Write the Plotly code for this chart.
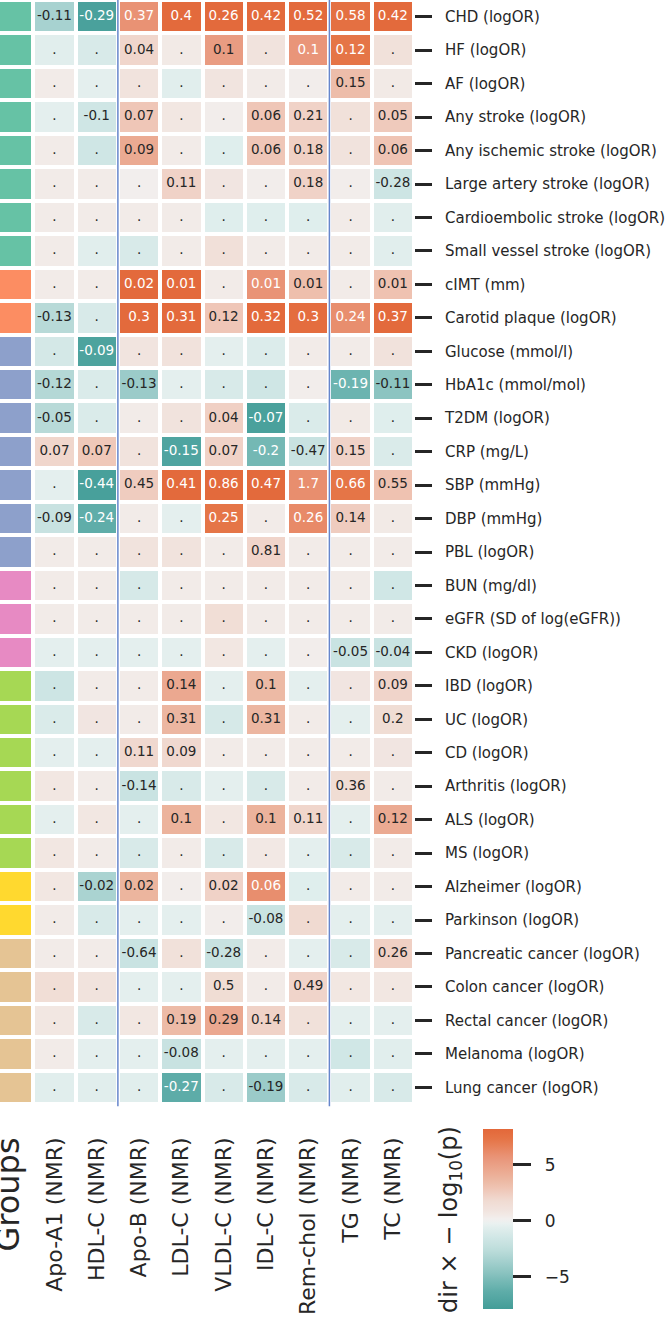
import plotly.graph_objects as go

# ---------------- data ----------------
row_names = [
    "CHD (logOR)", "HF (logOR)", "AF (logOR)", "Any stroke (logOR)",
    "Any ischemic stroke (logOR)", "Large artery stroke (logOR)",
    "Cardioembolic stroke (logOR)", "Small vessel stroke (logOR)",
    "cIMT (mm)", "Carotid plaque (logOR)",
    "Glucose (mmol/l)", "HbA1c (mmol/mol)", "T2DM (logOR)", "CRP (mg/L)",
    "SBP (mmHg)", "DBP (mmHg)", "PBL (logOR)",
    "BUN (mg/dl)", "eGFR (SD of log(eGFR))", "CKD (logOR)",
    "IBD (logOR)", "UC (logOR)", "CD (logOR)", "Arthritis (logOR)",
    "ALS (logOR)", "MS (logOR)",
    "Alzheimer (logOR)", "Parkinson (logOR)",
    "Pancreatic cancer (logOR)", "Colon cancer (logOR)",
    "Rectal cancer (logOR)", "Melanoma (logOR)", "Lung cancer (logOR)",
]
row_group = [0] * 8 + [1] * 2 + [2] * 7 + [3] * 3 + [4] * 6 + [5] * 2 + [6] * 5
group_colors = ["#66c2a5", "#fc8d62", "#8da0cb", "#e78ac3",
                "#a6d854", "#ffd92f", "#e5c494"]

col_names = ["Apo-A1 (NMR)", "HDL-C (NMR)", "Apo-B (NMR)", "LDL-C (NMR)",
             "VLDL-C (NMR)", "IDL-C (NMR)", "Rem-chol (NMR)", "TG (NMR)",
             "TC (NMR)"]
group_label = "Groups"
separators_after = ["HDL-C (NMR)", "Rem-chol (NMR)"]

N = None
# effect estimates (None = not significant, shown as ".")
est_apoa1 = [-0.11, N, N, N, N, N, N, N, N, -0.13, N, -0.12, -0.05, 0.07, N, -0.09,
             N, N, N, N, N, N, N, N, N, N, N, N, N, N, N, N, N]
est_hdlc = [-0.29, N, N, -0.1, N, N, N, N, N, N, -0.09, N, N, 0.07, -0.44, -0.24,
            N, N, N, N, N, N, N, N, N, N, -0.02, N, N, N, N, N, N]
est_apob = [0.37, 0.04, N, 0.07, 0.09, N, N, N, 0.02, 0.3, N, -0.13, N, N, 0.45, N,
            N, N, N, N, N, N, 0.11, -0.14, N, N, 0.02, N, -0.64, N, N, N, N]
est_ldlc = [0.4, N, N, N, N, 0.11, N, N, 0.01, 0.31, N, N, N, -0.15, 0.41, N,
            N, N, N, N, 0.14, 0.31, 0.09, N, 0.1, N, N, N, N, N, 0.19, -0.08, -0.27]
est_vldlc = [0.26, 0.1, N, N, N, N, N, N, N, 0.12, N, N, 0.04, 0.07, 0.86, 0.25,
             N, N, N, N, N, N, N, N, N, N, 0.02, N, -0.28, 0.5, 0.29, N, N]
est_idlc = [0.42, N, N, 0.06, 0.06, N, N, N, 0.01, 0.32, N, N, -0.07, -0.2, 0.47, N,
            0.81, N, N, N, 0.1, 0.31, N, N, 0.1, N, 0.06, -0.08, N, N, 0.14, N, -0.19]
est_remchol = [0.52, 0.1, N, 0.21, 0.18, 0.18, N, N, 0.01, 0.3, N, N, N, -0.47, 1.7, 0.26,
               N, N, N, N, N, N, N, N, 0.11, N, N, N, N, 0.49, N, N, N]
est_tg = [0.58, 0.12, 0.15, N, N, N, N, N, N, 0.24, N, -0.19, N, 0.15, 0.66, 0.14,
          N, N, N, -0.05, N, N, N, 0.36, N, N, N, N, N, N, N, N, N]
est_tc = [0.42, N, N, 0.05, 0.06, -0.28, N, N, 0.01, 0.37, N, -0.11, N, N, 0.55, N,
          N, N, N, -0.04, 0.09, 0.2, N, N, 0.12, N, N, N, 0.26, N, N, N, N]

# signed -log10(p)
z_apoa1 = [-3.5, -0.6, 0.4, -0.5, 0.4, 0.4, 0.4, 0.4, 0.4, -2.8, -1.3, -3.0, -2.8, 2.0, -0.5, -2.0,
           0.4, 0.4, 0.4, -0.5, -1.7, -1.0, -0.5, 0.7, -0.5, 0.7, 0.7, 0.4, 0.4, 1.5, 0.7, 0.4, -0.6]
z_hdlc = [-7.5, -1.1, -0.5, -1.6, -1.6, 0.4, 0.4, -0.6, 0.4, -1.1, -7.3, -1.0, -1.0, 2.7, -7.6, -6.3,
          0.4, 0.4, 0.4, -0.5, 0.4, 0.8, -0.5, 0.4, 0.7, 0.4, -3.4, -1.1, 0.4, 1.0, -1.1, -0.5, -0.6]
z_apob = [5.8, 2.0, 1.0, 2.8, 4.4, 0.2, 0.4, -1.1, 8.0, 8.0, 0.9, -4.0, 0.4, 1.0, 2.5, 0.4,
          1.0, -1.2, 0.4, -0.5, 0.4, 0.4, 1.9, -1.9, -0.5, -1.1, 3.8, -0.5, -1.9, -0.5, 0.7, -0.5, -0.6]
z_ldlc = [8.0, 0.5, -0.6, 0.7, 0.4, 2.2, 0.4, 0.4, 8.0, 8.0, 1.1, -0.5, 1.0, -7.2, 8.0, -0.5,
          1.0, 0.4, 0.4, -0.5, 4.5, 3.7, 1.9, -1.1, 3.9, 0.4, 0.3, -0.5, 1.2, -0.5, 3.4, -2.0, -6.4]
z_vldlc = [8.0, 5.2, 0.9, 0.3, -0.7, 0.8, -0.7, 1.3, 0.4, 2.8, -0.5, -1.1, 2.3, 2.2, 8.0, 7.3,
           0.4, 0.4, 1.5, 0.7, -0.5, -1.2, 0.4, -0.5, 0.7, -1.1, 2.2, 0.3, -2.0, 1.6, 4.5, -0.5, -1.1]
z_idlc = [8.0, 1.0, 0.4, 2.8, 2.8, 0.3, -0.7, 0.4, 5.7, 8.0, -0.9, -1.6, -7.5, -5.5, 8.0, 0.4,
          2.1, 0.4, 0.4, -0.5, 3.5, 3.7, 0.4, -1.1, 3.9, 0.6, 6.0, -1.9, 0.4, 0.4, 2.2, -0.5, -4.0]
z_remchol = [8.0, 5.6, 0.3, 2.2, 2.3, 2.2, -0.7, 0.4, 3.2, 7.8, 0.4, 0.3, -1.0, -2.0, 6.0, 6.2,
             0.4, 0.4, 0.4, 0.3, -0.5, 0.4, 0.4, 0.4, 2.0, -0.5, -0.7, 1.8, -0.5, 2.1, 1.2, -0.5, -1.1]
z_tg = [7.6, 7.3, 3.3, 1.2, 1.0, 0.3, 0.4, 0.4, 0.4, 6.0, 0.4, -5.8, 0.5, 2.2, 7.3, 2.5,
        0.4, 0.4, 0.4, -1.9, 0.8, -0.5, 0.4, 1.6, -0.5, -1.1, 0.4, -0.5, -1.1, 0.7, -0.5, -1.5, -0.6]
z_tc = [8.0, 1.2, 0.5, 2.6, 2.9, -1.7, -0.6, -0.6, 3.0, 8.0, 1.1, -4.6, -0.7, -1.0, 3.0, 0.5,
        0.4, -1.5, 0.4, -1.9, 2.1, 1.6, 0.8, 0.4, 4.4, 0.4, 0.4, -0.5, 2.3, 0.7, -0.5, -0.6, -1.1]

cbar_ticks = [-5, 0, 5]
z_lo, z_hi = -7.9, 8.2

# ---------------- build ----------------
est_cols = [est_apoa1, est_hdlc, est_apob, est_ldlc, est_vldlc, est_idlc,
            est_remchol, est_tg, est_tc]
z_cols = [z_apoa1, z_hdlc, z_apob, z_ldlc, z_vldlc, z_idlc, z_remchol, z_tg, z_tc]

nrow = len(row_names)
zmat = [[z_cols[j][i] for j in range(len(col_names))] for i in range(nrow)]

# diverging palette (teal - light - orange), symmetric around 0
anchors = [(0.0, "#3e9a95"), (0.116, "#5fada9"), (0.22, "#8cc4c1"), (0.33, "#b9dbd9"),
           (0.433, "#d8eae9"), (0.47, "#e3f0ef"), (0.5, "#f2f2f2"), (0.524, "#f3ebe8"),
           (0.56, "#f1e3de"), (0.616, "#f0d9d0"), (0.67, "#efc6b6"), (0.74, "#ecb29b"),
           (0.84, "#e9967a"), (0.945, "#e57446"), (1.0, "#e3683a")]


def h2r(h):
    h = h.lstrip("#")
    return [int(h[k:k + 2], 16) for k in (0, 2, 4)]


def pal(t):
    t = min(max(t, 0.0), 1.0)
    for (t0, c0), (t1, c1) in zip(anchors[:-1], anchors[1:]):
        if t0 <= t <= t1:
            a = (t - t0) / (t1 - t0) if t1 > t0 else 0
            r0, r1 = h2r(c0), h2r(c1)
            return "rgb(%d,%d,%d)" % tuple(round(r0[k] + a * (r1[k] - r0[k])) for k in range(3))
    return anchors[-1][1]


vr = max(abs(z_lo), abs(z_hi))
nst = 41
colorscale = []
for k in range(nst):
    f = k / (nst - 1)
    zz = z_lo + f * (z_hi - z_lo)
    colorscale.append([f, pal((zz + vr) / (2 * vr))])

# group colour column
ng = len(group_colors)
group_scale = []
for k, c in enumerate(group_colors):
    group_scale.append([k / ng, c])
    group_scale.append([(k + 1) / ng, c])

FONT = "DejaVu Sans"
DARK = "#262626"

fig = go.Figure()
fig.add_trace(go.Heatmap(
    z=[[g] for g in row_group], x=[group_label], y=row_names,
    colorscale=group_scale, zmin=-0.5, zmax=ng - 0.5, showscale=False,
    xgap=4, ygap=4, hoverinfo="skip"))

fig.add_trace(go.Heatmap(
    z=zmat, x=col_names, y=row_names, colorscale=colorscale,
    zmin=z_lo, zmax=z_hi, xgap=4, ygap=4,
    colorbar=dict(
        thickness=30, len=180, lenmode="pixels",
        x=483 / 414, xanchor="left", xpad=0,
        y=(1104 - 1309) / 1104, yanchor="bottom", ypad=0,
        outlinewidth=0,
        tickvals=cbar_ticks,
        ticktext=["\u00a0\u00a0" + ("\u2212%d" % -v if v < 0 else "%d" % v) for v in cbar_ticks],
        ticks="outside", ticklen=18, tickwidth=3, tickcolor=DARK,
        tickfont=dict(family=FONT, size=17, color=DARK)),
))

# cell annotations
tx, ty, tt, tc = [], [], [], []
for i in range(nrow):
    for j in range(len(col_names)):
        v = est_cols[j][i]
        z = z_cols[j][i]
        tx.append(col_names[j])
        ty.append(row_names[i])
        tt.append("." if v is None else "%g" % v)
        tc.append("white" if (z >= 5.4 or z <= -5.0) else DARK)
fig.add_trace(go.Scatter(
    x=tx, y=ty, text=tt, mode="text", textposition="middle center",
    textfont=dict(family=FONT, size=13.5, color=tc), hoverinfo="skip",
    showlegend=False))

cats = [group_label] + col_names
for name in separators_after:
    xi = cats.index(name) + 0.5
    fig.add_shape(type="line", xref="x", yref="paper", x0=xi, x1=xi,
                  y0=-0.002, y1=1, line=dict(color="#6686cc", width=1.5),
                  layer="above")

fig.add_annotation(
    text="dir \u00d7 \u2212 log<sub>10</sub>(p)", textangle=-90,
    xref="paper", yref="paper", x=450 / 414, y=(1104 - 1220) / 1104,
    xanchor="center", yanchor="middle", showarrow=False,
    font=dict(family=FONT, size=24, color=DARK))

fig.update_layout(
    width=666, height=1321,
    margin=dict(l=0, r=252, t=0, b=217, autoexpand=False),
    paper_bgcolor="white", plot_bgcolor="white",
    showlegend=False,
    font=dict(family=FONT, color=DARK),
    xaxis=dict(
        type="category", categoryorder="array", categoryarray=cats,
        range=[-0.287, len(cats) - 0.5], automargin=False,
        tickvals=cats,
        ticktext=["<span style='font-size:32px'>%s</span>" % group_label] + col_names,
        tickangle=-90, ticks="", ticklabelstandoff=28,
        tickfont=dict(family=FONT, size=22, color=DARK),
        showgrid=False, zeroline=False, showline=False),
    yaxis=dict(
        type="category", categoryorder="array", categoryarray=row_names,
        range=[nrow - 0.5, -0.5], side="right", automargin=False,
        ticks="outside", ticklen=17, tickwidth=3, tickcolor=DARK,
        ticklabelstandoff=10,
        tickfont=dict(family=FONT, size=15, color=DARK),
        showgrid=False, zeroline=False, showline=False),
)

fig.write_html("out.html",
               config={"displayModeBar": False},
               post_script="document.body.style.margin='0px';document.body.style.padding='0px';")
